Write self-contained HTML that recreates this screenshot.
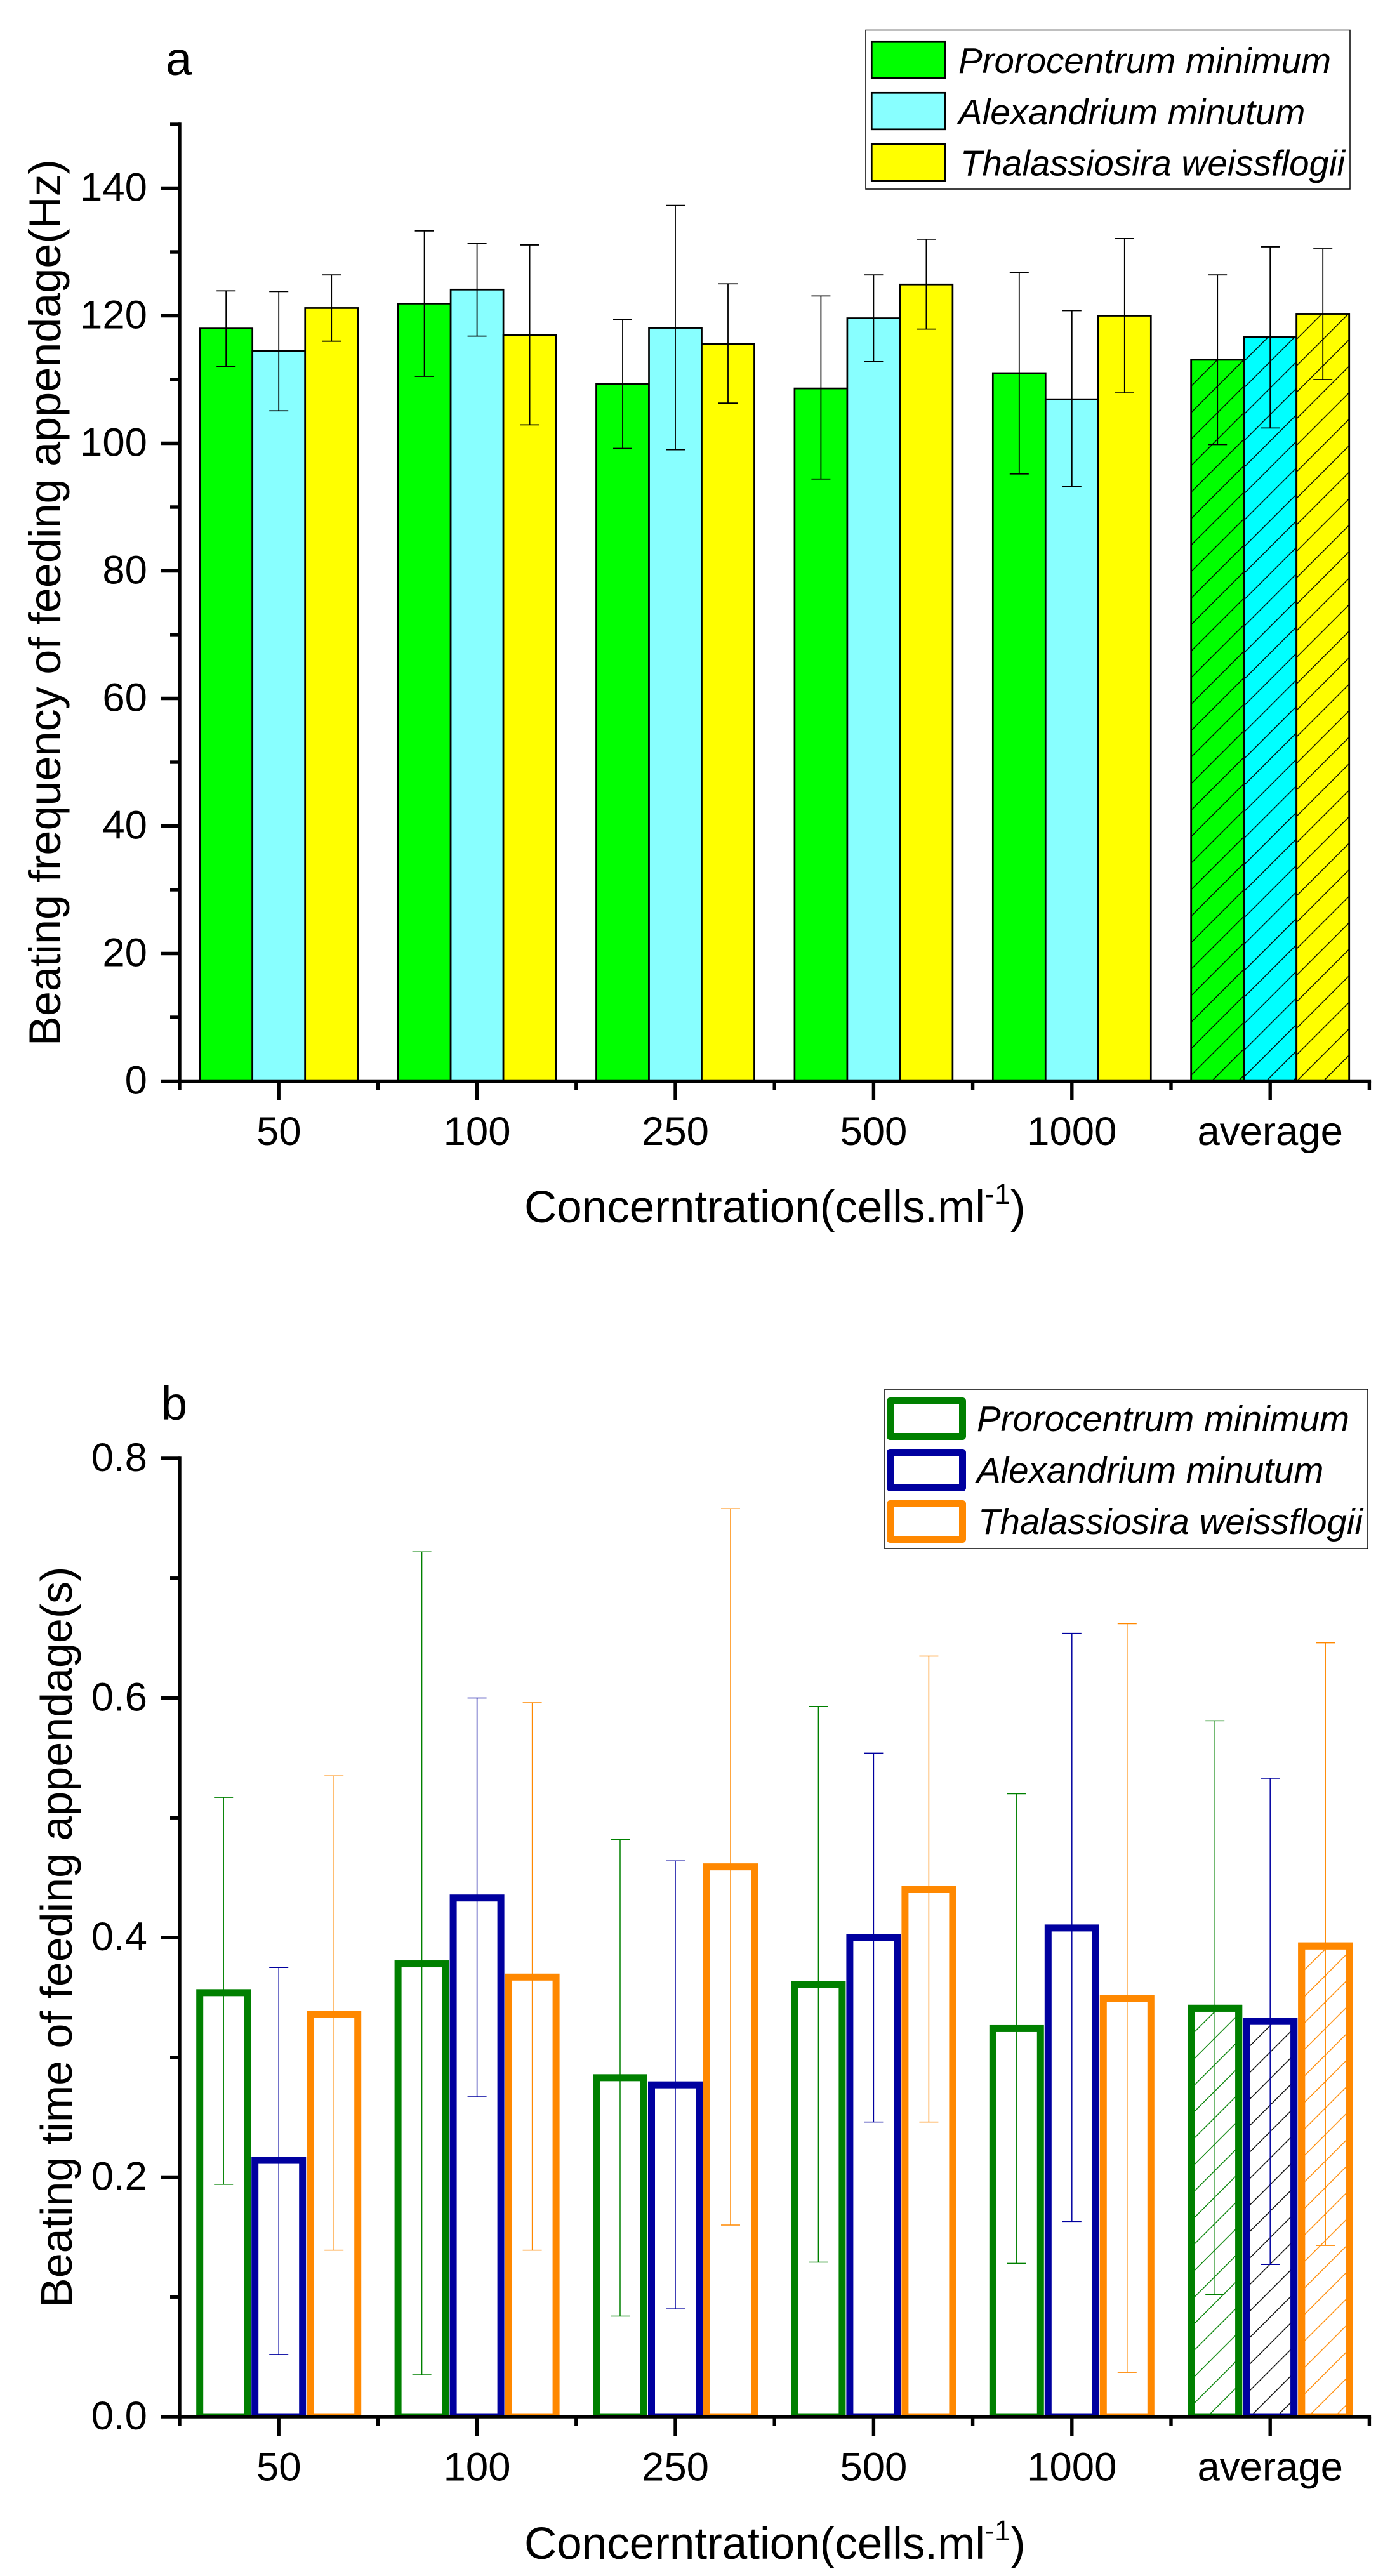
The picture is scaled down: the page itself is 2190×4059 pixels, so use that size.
<!DOCTYPE html>
<html lang="en">
<head>
<meta charset="utf-8">
<title>Beating frequency and beating time of feeding appendage</title>
<style>
html,body{margin:0;padding:0;background:#fff;}
svg{display:block;}
text{font-family:"Liberation Sans",Arial,sans-serif;fill:#000;}
.it{font-style:italic;}
</style>
</head>
<body>
<svg id="fig" xmlns="http://www.w3.org/2000/svg" width="2190" height="4059" viewBox="0 0 2190 4059">
  <rect x="0" y="0" width="2190" height="4059" fill="#ffffff"/>
  <defs>
    <clipPath id="clipA"><rect x="283" y="100" width="1880" height="1603.5"/></clipPath>
    <clipPath id="clipB"><rect x="283" y="2200" width="1880" height="1608"/></clipPath>
    <pattern id="hatchAgreen" patternUnits="userSpaceOnUse" width="41.76" height="41.76" patternTransform="translate(21.2,0)">
      <path d="M-4 45.76L45.76 -4M-4 4L4 -4M37.76 45.76L45.76 37.76" stroke="#000" stroke-width="1.4" fill="none"/>
    </pattern>
    <pattern id="hatchAcyan" patternUnits="userSpaceOnUse" width="41.76" height="41.76" patternTransform="translate(23.6,0)">
      <path d="M-4 45.76L45.76 -4M-4 4L4 -4M37.76 45.76L45.76 37.76" stroke="#000" stroke-width="1.4" fill="none"/>
    </pattern>
    <pattern id="hatchAyellow" patternUnits="userSpaceOnUse" width="41.76" height="41.76" patternTransform="translate(30,0)">
      <path d="M-4 45.76L45.76 -4M-4 4L4 -4M37.76 45.76L45.76 37.76" stroke="#000" stroke-width="1.4" fill="none"/>
    </pattern>
    <pattern id="hatchBgreen" patternUnits="userSpaceOnUse" width="41.76" height="41.76" patternTransform="translate(30.74,0)">
      <path d="M-4 45.76L45.76 -4M-4 4L4 -4M37.76 45.76L45.76 37.76" stroke="#008000" stroke-width="1.4" fill="none"/>
    </pattern>
    <pattern id="hatchBblue" patternUnits="userSpaceOnUse" width="41.76" height="41.76" patternTransform="translate(14.76,0)">
      <path d="M-4 45.76L45.76 -4M-4 4L4 -4M37.76 45.76L45.76 37.76" stroke="#000" stroke-width="1.4" fill="none"/>
    </pattern>
    <pattern id="hatchBorange" patternUnits="userSpaceOnUse" width="41.76" height="41.76" patternTransform="translate(22.76,0)">
      <path d="M-4 45.76L45.76 -4M-4 4L4 -4M37.76 45.76L45.76 37.76" stroke="#ff8800" stroke-width="1.4" fill="none"/>
    </pattern>
  </defs>

  <g id="chartA"></g>
  <g id="chartB"></g>

  <text x="261" y="118" font-size="74">a</text>
  <text x="254" y="2237" font-size="74">b</text>

  <text transform="translate(95,1648) rotate(-90)" font-size="70.2">Beating frequency of feeding appendage(Hz)</text>
  <text transform="translate(113,3636) rotate(-90)" font-size="70">Beating time of feeding appendage(s)</text>

  <text x="826" y="1926" font-size="71">Concerntration(cells.ml<tspan font-size="45" dy="-29">-1</tspan><tspan dy="29">)</tspan></text>
  <text x="826" y="4032" font-size="71">Concerntration(cells.ml<tspan font-size="45" dy="-29">-1</tspan><tspan dy="29">)</tspan></text>

  <g>
    <rect x="1364" y="47.5" width="763" height="250.5" fill="#fff" stroke="#000" stroke-width="1.5"/>
    <g>
      <rect x="1373.3" y="65.3" width="115.5" height="57.5" fill="#00ff00" stroke="#000" stroke-width="2.7"/>
      <text class="it" x="1510" y="115" font-size="56.5">Prorocentrum minimum</text>
    </g>
    <g>
      <rect x="1373.3" y="146.3" width="115.5" height="57.5" fill="#88ffff" stroke="#000" stroke-width="2.7"/>
      <text class="it" x="1510" y="196" font-size="56.5">Alexandrium minutum</text>
    </g>
    <g>
      <rect x="1373.3" y="227.3" width="115.5" height="57.5" fill="#ffff00" stroke="#000" stroke-width="2.7"/>
      <text class="it" x="1513" y="276.5" font-size="56.5">Thalassiosira weissflogii</text>
    </g>
  </g>

  <g>
    <rect x="1394" y="2189" width="761" height="251" fill="#fff" stroke="#000" stroke-width="1.5"/>
    <g>
      <rect x="1402.5" y="2207.5" width="114" height="56" fill="#fff" stroke="#008000" stroke-width="11" stroke-linejoin="round"/>
      <text class="it" x="1539" y="2255" font-size="56.5">Prorocentrum minimum</text>
    </g>
    <g>
      <rect x="1402.5" y="2288.5" width="114" height="56" fill="#fff" stroke="#00009f" stroke-width="11" stroke-linejoin="round"/>
      <text class="it" x="1539" y="2336" font-size="56.5">Alexandrium minutum</text>
    </g>
    <g>
      <rect x="1402.5" y="2369.5" width="114" height="56" fill="#fff" stroke="#ff8800" stroke-width="11" stroke-linejoin="round"/>
      <text class="it" x="1541" y="2417" font-size="56.5">Thalassiosira weissflogii</text>
    </g>
  </g>
</svg>

<script>
// Shared categories
var categories = ['50', '100', '250', '500', '1000', 'average'];

// Panel a: beating frequency (Hz)
var freqTicks = ['0', '20', '40', '60', '80', '100', '120', '140'];
var freqProrocentrum = [118, 121.9, 109.3, 108.6, 111, 113.1];
var freqProrocentrumHigh = [123.9, 133.3, 119.4, 123.1, 126.8, 126.4];
var freqProrocentrumLow = [112, 110.5, 99.2, 94.4, 95.2, 99.8];
var freqAlexandrium = [114.5, 124.1, 118.1, 119.6, 106.9, 116.7];
var freqAlexandriumHigh = [123.8, 131.3, 137.3, 126.4, 120.8, 130.8];
var freqAlexandriumLow = [105.1, 116.8, 99, 112.8, 93.2, 102.4];
var freqThalassiosira = [121.2, 117, 115.6, 124.9, 120, 120.3];
var freqThalassiosiraHigh = [126.4, 131.1, 125, 132, 132.1, 130.5];
var freqThalassiosiraLow = [116, 102.9, 106.3, 117.9, 107.9, 110];

// Panel b: beating time (s)
var timeTicks = ['0.0', '0.2', '0.4', '0.6', '0.8'];
var timeProrocentrum = [0.354, 0.378, 0.283, 0.361, 0.324, 0.341];
var timeProrocentrumHigh = [0.517, 0.722, 0.482, 0.593, 0.52, 0.581];
var timeProrocentrumLow = [0.194, 0.035, 0.084, 0.129, 0.128, 0.102];
var timeAlexandrium = [0.214, 0.433, 0.277, 0.4, 0.408, 0.33];
var timeAlexandriumHigh = [0.375, 0.6, 0.464, 0.554, 0.654, 0.533];
var timeAlexandriumLow = [0.052, 0.267, 0.09, 0.246, 0.163, 0.127];
var timeThalassiosira = [0.336, 0.367, 0.459, 0.44, 0.349, 0.393];
var timeThalassiosiraHigh = [0.535, 0.596, 0.758, 0.635, 0.662, 0.646];
var timeThalassiosiraLow = [0.139, 0.139, 0.16, 0.246, 0.037, 0.143];

var NS = 'http://www.w3.org/2000/svg';
var X_START = 283;
var BAND = 312.4;

function xCenter(i) { return X_START + BAND * (i + 0.5); }

function mk(tag, parent, attrs) {
  var e = document.createElementNS(NS, tag);
  for (var k in attrs) { e.setAttribute(k, attrs[k]); }
  parent.appendChild(e);
  return e;
}

function drawChart(c) {
  var root = document.getElementById(c.id);
  var y = function (v) { return c.baseY - (v - c.min) * c.scale; };
  var bars = mk('g', root, { 'clip-path': 'url(#' + c.clip + ')' });
  
  
  var errs = mk('g', root, {});
  
  

  c.series.forEach(function (s, si) {
    s.values.forEach(function (v, i) {
      var cx = xCenter(i) + (si - 1) * c.slot;
      var w = c.barWidth;
      var top = y(v);
      var last = i === categories.length - 1;
      var bar = mk('rect', bars, {
        x: cx - w / 2, y: top, width: w, height: c.baseY - top,
        fill: last && c.avgFill ? c.avgFill[si] : s.fill,
        stroke: s.stroke, 'stroke-width': c.barStroke, 'stroke-linejoin': c.join
      });
      
      
      if (last) {
        var hatch = mk('rect', bars, {
          x: cx - w / 2, y: top, width: w, height: c.baseY - top,
          fill: 'url(#' + s.hatch + ')', stroke: s.stroke,
          'stroke-width': c.barStroke, 'stroke-linejoin': c.join
        });
        
        
      }
    });
  });

  c.series.forEach(function (s, si) {
    s.values.forEach(function (v, i) {
      var cx = xCenter(i) + (si - 1) * c.slot;
      var d = 'M' + cx + ' ' + y(s.low[i]) + 'L' + cx + ' ' + y(s.high[i]) +
              'M' + (cx - 15) + ' ' + y(s.high[i]) + 'L' + (cx + 15) + ' ' + y(s.high[i]) +
              'M' + (cx - 15) + ' ' + y(s.low[i]) + 'L' + (cx + 15) + ' ' + y(s.low[i]);
      var err = mk('path', errs, { d: d, fill: 'none', stroke: c.errColor ? s.stroke : '#000', 'stroke-width': c.errWidth });
      
      
    });
  });

  var axes = mk('g', root, { stroke: '#000', 'stroke-width': 5.4, fill: 'none' });
  
  

  var yLine = mk('line', axes, { x1: X_START, x2: X_START, y1: y(c.max) - 2.7, y2: c.baseY + 2.7 });
  
  
  var xLine = mk('line', axes, { x1: X_START - 2.7, x2: X_START + BAND * 6 + 2.7, y1: c.baseY, y2: c.baseY });
  
  

  // y ticks: a major at every labelled value, a minor halfway between
  c.ticks.forEach(function (label, i) {
    var val = parseFloat(label);
    var major = mk('line', axes, { x1: X_START - 30, x2: X_START, y1: y(val), y2: y(val) });
    
    
    var t = mk('text', root, { x: 232, y: y(val) + 20, 'font-size': 63.5, 'text-anchor': 'end' });
    
    
    t.textContent = label;
    var mid = val + c.minorStep;
    if (mid <= c.max) {
      var minor = mk('line', axes, { x1: X_START - 15, x2: X_START, y1: y(mid), y2: y(mid) });
      
      
    }
  });

  // x ticks
  categories.forEach(function (label, i) {
    var cx = xCenter(i);
    var major = mk('line', axes, { x1: cx, x2: cx, y1: c.baseY, y2: c.baseY + 30.5 });
    
    
    var t = mk('text', root, { x: cx, y: c.labelY, 'font-size': 63.5, 'text-anchor': 'middle' });
    
    
    t.textContent = label;
  });
  for (var j = 0; j <= categories.length; j++) {
    var mx = X_START + BAND * j;
    var minorX = mk('line', axes, { x1: mx, x2: mx, y1: c.baseY, y2: c.baseY + 14 });
    
    
  }
}

drawChart({
  id: 'chartA', clip: 'clipA', baseY: 1703.5, scale: 10.05, min: 0, max: 150,
  minorStep: 10, ticks: freqTicks, labelY: 1804, slot: 83, barWidth: 83, barStroke: 2.7, join: 'miter',
  errColor: false, errWidth: 1.8, avgFill: ['#00ff00', '#00ffff', '#ffff00'],
  series: [
    { key: 'prorocentrum', values: freqProrocentrum, high: freqProrocentrumHigh, low: freqProrocentrumLow, fill: '#00ff00', stroke: '#000', hatch: 'hatchAgreen' },
    { key: 'alexandrium', values: freqAlexandrium, high: freqAlexandriumHigh, low: freqAlexandriumLow, fill: '#88ffff', stroke: '#000', hatch: 'hatchAcyan' },
    { key: 'thalassiosira', values: freqThalassiosira, high: freqThalassiosiraHigh, low: freqThalassiosiraLow, fill: '#ffff00', stroke: '#000', hatch: 'hatchAyellow' }
  ]
});

drawChart({
  id: 'chartB', clip: 'clipB', baseY: 3808, scale: 1887.5, min: 0, max: 0.8,
  minorStep: 0.1, ticks: timeTicks, labelY: 3908.5, slot: 87, barWidth: 75, barStroke: 11, join: 'miter',
  errColor: true, errWidth: 1.5, avgFill: null,
  series: [
    { key: 'prorocentrum', values: timeProrocentrum, high: timeProrocentrumHigh, low: timeProrocentrumLow, fill: '#fff', stroke: '#008000', hatch: 'hatchBgreen' },
    { key: 'alexandrium', values: timeAlexandrium, high: timeAlexandriumHigh, low: timeAlexandriumLow, fill: '#fff', stroke: '#00009f', hatch: 'hatchBblue' },
    { key: 'thalassiosira', values: timeThalassiosira, high: timeThalassiosiraHigh, low: timeThalassiosiraLow, fill: '#fff', stroke: '#ff8800', hatch: 'hatchBorange' }
  ]
});
</script>
</body>
</html>
